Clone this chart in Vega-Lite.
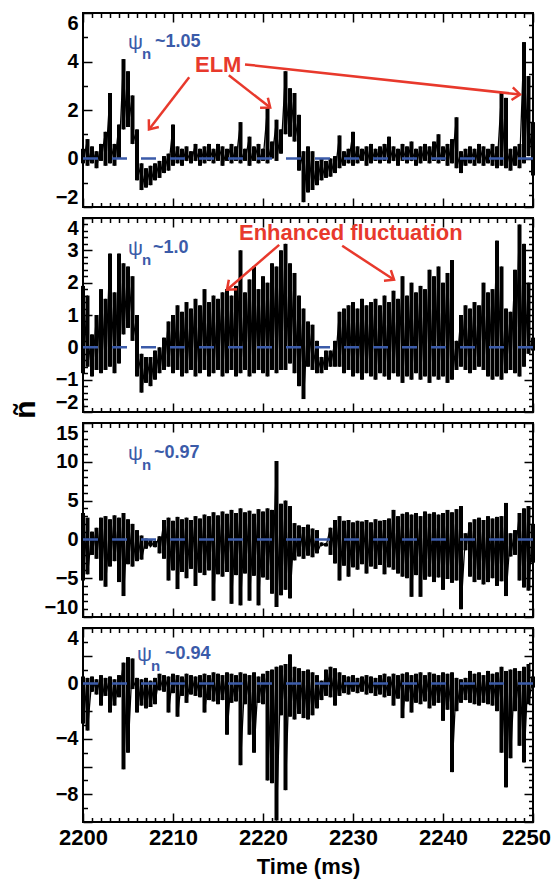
{
"$schema": "https://vega.github.io/schema/vega-lite/v6.json",
"background": "white",
"padding": {"left": 9, "top": 11, "right": 0, "bottom": 0},
"config": {
  "font": "Liberation Sans",
  "view": {"stroke": "black", "strokeWidth": 2},
  "axis": {"labelFont": "Liberation Sans", "labelFontWeight": "bold", "labelColor": "black", "titleFont": "Liberation Sans", "titleFontWeight": "bold", "titleColor": "black", "domain": false, "grid": false, "tickColor": "black", "tickWidth": 1.5, "minExtent": 0, "labelFlush": false}
},
"datasets": {
"s1": [
{"t":2200,"hi":0.4,"lo":-0.2},{"t":2200.5,"hi":0.8,"lo":-0.3},{"t":2201,"hi":0.5,"lo":-0.2},{"t":2201.5,"hi":0.3,"lo":-0.4},{"t":2202,"hi":0.6,"lo":-0.1},{"t":2202.5,"hi":1.1,"lo":-0.3},{"t":2203,"hi":2.7,"lo":-0.2},{"t":2203.5,"hi":0.6,"lo":-0.3},{"t":2204,"hi":1.4,"lo":0},{"t":2204.5,"hi":4.1,"lo":1.2},
{"t":2205,"hi":3.6,"lo":1.3},{"t":2205.5,"hi":2.6,"lo":0.6},{"t":2206,"hi":1.2,"lo":-0.9},{"t":2206.5,"hi":-0.2,"lo":-1.3},{"t":2207,"hi":-0.4,"lo":-1.2},{"t":2207.5,"hi":-0.3,"lo":-1.1},{"t":2208,"hi":-0.2,"lo":-0.9},{"t":2208.5,"hi":-0.1,"lo":-0.8},{"t":2209,"hi":0.1,"lo":-0.6},{"t":2209.5,"hi":0.2,"lo":-0.5},
{"t":2210,"hi":1.4,"lo":-0.3},{"t":2210.5,"hi":0.5,"lo":-0.2},{"t":2211,"hi":0.4,"lo":-0.3},{"t":2211.5,"hi":0.5,"lo":-0.1},{"t":2212,"hi":0.3,"lo":-0.2},{"t":2212.5,"hi":0.6,"lo":-0.1},{"t":2213,"hi":0.4,"lo":-0.3},{"t":2213.5,"hi":0.5,"lo":-0.2},{"t":2214,"hi":0.6,"lo":-0.1},{"t":2214.5,"hi":0.4,"lo":-0.2},
{"t":2215,"hi":0.6,"lo":-0.1},{"t":2215.5,"hi":0.5,"lo":-0.3},{"t":2216,"hi":0.4,"lo":-0.1},{"t":2216.5,"hi":0.6,"lo":-0.2},{"t":2217,"hi":0.5,"lo":-0.1},{"t":2217.5,"hi":1.5,"lo":-0.2},{"t":2218,"hi":0.4,"lo":-0.1},{"t":2218.5,"hi":0.9,"lo":-0.3},{"t":2219,"hi":0.5,"lo":-0.1},{"t":2219.5,"hi":0.6,"lo":-0.2},
{"t":2220,"hi":0.4,"lo":-0.1},{"t":2220.5,"hi":2.1,"lo":-0.2},{"t":2221,"hi":0.7,"lo":0},{"t":2221.5,"hi":1.6,"lo":-0.1},{"t":2222,"hi":1.2,"lo":0.2},{"t":2222.5,"hi":3.6,"lo":1.0},{"t":2223,"hi":2.9,"lo":0.9},{"t":2223.5,"hi":2.7,"lo":0.7},{"t":2224,"hi":1.8,"lo":-0.5},{"t":2224.5,"hi":0.3,"lo":-1.8},
{"t":2225,"hi":0.5,"lo":-1.4},{"t":2225.5,"hi":0.3,"lo":-1.3},{"t":2226,"hi":-0.1,"lo":-1.1},{"t":2226.5,"hi":0,"lo":-0.9},{"t":2227,"hi":-0.1,"lo":-0.8},{"t":2227.5,"hi":0,"lo":-0.75},{"t":2228,"hi":0.1,"lo":-0.6},{"t":2228.5,"hi":0.95,"lo":-0.4},{"t":2229,"hi":0.3,"lo":-0.3},{"t":2229.5,"hi":0.4,"lo":-0.2},
{"t":2230,"hi":1.1,"lo":-0.3},{"t":2230.5,"hi":0.5,"lo":-0.2},{"t":2231,"hi":0.4,"lo":-0.1},{"t":2231.5,"hi":0.5,"lo":-0.3},{"t":2232,"hi":0.6,"lo":-0.2},{"t":2232.5,"hi":0.4,"lo":-0.1},{"t":2233,"hi":0.5,"lo":-0.2},{"t":2233.5,"hi":0.6,"lo":-0.1},{"t":2234,"hi":0.9,"lo":-0.2},{"t":2234.5,"hi":0.5,"lo":-0.1},
{"t":2235,"hi":0.4,"lo":-0.3},{"t":2235.5,"hi":0.6,"lo":-0.1},{"t":2236,"hi":0.5,"lo":-0.2},{"t":2236.5,"hi":0.7,"lo":-0.1},{"t":2237,"hi":0.4,"lo":-0.3},{"t":2237.5,"hi":0.5,"lo":-0.2},{"t":2238,"hi":0.6,"lo":-0.1},{"t":2238.5,"hi":0.5,"lo":-0.2},{"t":2239,"hi":0.7,"lo":-0.1},{"t":2239.5,"hi":1.0,"lo":-0.2},
{"t":2240,"hi":0.5,"lo":-0.1},{"t":2240.5,"hi":0.6,"lo":-0.3},{"t":2241,"hi":0.8,"lo":-0.2},{"t":2241.5,"hi":1.7,"lo":-0.4},{"t":2242,"hi":0.3,"lo":-0.6},{"t":2242.5,"hi":0.4,"lo":-0.3},{"t":2243,"hi":0.5,"lo":-0.2},{"t":2243.5,"hi":0.4,"lo":-0.3},{"t":2244,"hi":0.6,"lo":-0.2},{"t":2244.5,"hi":0.5,"lo":-0.3},
{"t":2245,"hi":0.4,"lo":-0.2},{"t":2245.5,"hi":0.6,"lo":-0.3},{"t":2246,"hi":0.5,"lo":-0.4},{"t":2246.5,"hi":2.7,"lo":-0.3},{"t":2247,"hi":2.5,"lo":-0.4},{"t":2247.5,"hi":0.4,"lo":-0.5},{"t":2248,"hi":0.5,"lo":-0.3},{"t":2248.5,"hi":0.6,"lo":-0.4},{"t":2249,"hi":4.8,"lo":-0.2},{"t":2249.5,"hi":3.4,"lo":0.1},
{"t":2250,"hi":1.5,"lo":-0.7}
],
"s2": [
{"t":2200,"hi":1.9,"lo":-0.8},{"t":2200.5,"hi":1.6,"lo":-0.6},{"t":2201,"hi":0.4,"lo":-0.9},{"t":2201.5,"hi":1.0,"lo":-0.7},{"t":2202,"hi":1.8,"lo":-0.8},{"t":2202.5,"hi":1.5,"lo":-0.7},{"t":2203,"hi":2.9,"lo":-0.6},{"t":2203.5,"hi":1.7,"lo":-0.8},{"t":2204,"hi":2.9,"lo":-0.5},{"t":2204.5,"hi":2.6,"lo":0.4},
{"t":2205,"hi":2.5,"lo":0.6},{"t":2205.5,"hi":2.2,"lo":0.2},{"t":2206,"hi":1.0,"lo":-0.9},{"t":2206.5,"hi":-0.2,"lo":-1.4},{"t":2207,"hi":-0.3,"lo":-1.1},{"t":2207.5,"hi":-0.3,"lo":-1.2},{"t":2208,"hi":-0.1,"lo":-1.0},{"t":2208.5,"hi":0,"lo":-0.8},{"t":2209,"hi":0.3,"lo":-0.7},{"t":2209.5,"hi":0.8,"lo":-0.6},
{"t":2210,"hi":1.0,"lo":-0.8},{"t":2210.5,"hi":1.3,"lo":-0.7},{"t":2211,"hi":1.1,"lo":-0.9},{"t":2211.5,"hi":1.4,"lo":-0.8},{"t":2212,"hi":1.2,"lo":-0.7},{"t":2212.5,"hi":1.5,"lo":-0.9},{"t":2213,"hi":1.3,"lo":-0.8},{"t":2213.5,"hi":1.8,"lo":-0.7},{"t":2214,"hi":1.4,"lo":-0.9},{"t":2214.5,"hi":1.6,"lo":-0.8},
{"t":2215,"hi":1.5,"lo":-0.7},{"t":2215.5,"hi":1.7,"lo":-0.9},{"t":2216,"hi":1.8,"lo":-0.8},{"t":2216.5,"hi":1.6,"lo":-0.7},{"t":2217,"hi":1.9,"lo":-0.9},{"t":2217.5,"hi":3.0,"lo":-0.8},{"t":2218,"hi":1.7,"lo":-0.7},{"t":2218.5,"hi":2.1,"lo":-0.9},{"t":2219,"hi":2.5,"lo":-0.8},{"t":2219.5,"hi":1.8,"lo":-0.7},
{"t":2220,"hi":2.2,"lo":-0.8},{"t":2220.5,"hi":2.0,"lo":-0.9},{"t":2221,"hi":2.6,"lo":-0.7},{"t":2221.5,"hi":2.5,"lo":-0.8},{"t":2222,"hi":3.0,"lo":-0.7},{"t":2222.5,"hi":3.2,"lo":-0.7},{"t":2223,"hi":2.6,"lo":-0.5},{"t":2223.5,"hi":2.3,"lo":-0.8},{"t":2224,"hi":1.6,"lo":-1.2},{"t":2224.5,"hi":1.2,"lo":-1.6},
{"t":2225,"hi":0.8,"lo":-0.6},{"t":2225.5,"hi":0.7,"lo":-0.7},{"t":2226,"hi":0.2,"lo":-0.8},{"t":2226.5,"hi":-0.3,"lo":-0.8},{"t":2227,"hi":-0.1,"lo":-0.7},{"t":2227.5,"hi":-0.1,"lo":-0.6},{"t":2228,"hi":0.2,"lo":-0.6},{"t":2228.5,"hi":1.1,"lo":-0.6},{"t":2229,"hi":1.2,"lo":-0.8},{"t":2229.5,"hi":1.3,"lo":-0.7},
{"t":2230,"hi":1.4,"lo":-0.9},{"t":2230.5,"hi":1.2,"lo":-0.8},{"t":2231,"hi":1.5,"lo":-1.0},{"t":2231.5,"hi":1.3,"lo":-0.8},{"t":2232,"hi":1.4,"lo":-0.9},{"t":2232.5,"hi":1.5,"lo":-1.0},{"t":2233,"hi":1.3,"lo":-0.8},{"t":2233.5,"hi":1.6,"lo":-0.9},{"t":2234,"hi":1.4,"lo":-1.0},{"t":2234.5,"hi":1.75,"lo":-0.8},
{"t":2235,"hi":1.5,"lo":-0.9},{"t":2235.5,"hi":2.2,"lo":-1.1},{"t":2236,"hi":1.6,"lo":-0.9},{"t":2236.5,"hi":2.0,"lo":-1.0},{"t":2237,"hi":1.7,"lo":-0.8},{"t":2237.5,"hi":1.9,"lo":-1.0},{"t":2238,"hi":1.8,"lo":-0.9},{"t":2238.5,"hi":2.4,"lo":-1.1},{"t":2239,"hi":2.2,"lo":-0.9},{"t":2239.5,"hi":2.5,"lo":-1.0},
{"t":2240,"hi":2.0,"lo":-0.9},{"t":2240.5,"hi":2.3,"lo":-1.1},{"t":2241,"hi":2.7,"lo":-1.0},{"t":2241.5,"hi":0.2,"lo":-0.7},{"t":2242,"hi":1.0,"lo":-0.6},{"t":2242.5,"hi":1.3,"lo":-0.7},{"t":2243,"hi":1.2,"lo":-0.8},{"t":2243.5,"hi":1.4,"lo":-0.7},{"t":2244,"hi":1.3,"lo":-0.6},{"t":2244.5,"hi":2.0,"lo":-0.7},
{"t":2245,"hi":1.7,"lo":-0.9},{"t":2245.5,"hi":1.8,"lo":-1.0},{"t":2246,"hi":3.3,"lo":-0.9},{"t":2246.5,"hi":2.5,"lo":-1.0},{"t":2247,"hi":1.2,"lo":-0.8},{"t":2247.5,"hi":1.1,"lo":-0.7},{"t":2248,"hi":2.4,"lo":-0.8},{"t":2248.5,"hi":3.8,"lo":-0.9},{"t":2249,"hi":3.2,"lo":-0.6},{"t":2249.5,"hi":2.0,"lo":-0.2},
{"t":2250,"hi":0.3,"lo":-0.1}
],
"s3": [
{"t":2200,"hi":3.4,"lo":-5.3},{"t":2200.5,"hi":2.8,"lo":-4.5},{"t":2201,"hi":1.0,"lo":-2.0},{"t":2201.5,"hi":1.5,"lo":-2.5},{"t":2202,"hi":2.8,"lo":-5.3},{"t":2202.5,"hi":3.0,"lo":-6.1},{"t":2203,"hi":2.6,"lo":-3.5},{"t":2203.5,"hi":3.1,"lo":-2.8},{"t":2204,"hi":2.8,"lo":-5.5},{"t":2204.5,"hi":3.4,"lo":-7.3},
{"t":2205,"hi":2.6,"lo":-3.2},{"t":2205.5,"hi":2.0,"lo":-3.5},{"t":2206,"hi":1.2,"lo":-2.8},{"t":2206.5,"hi":0.5,"lo":-2.6},{"t":2207,"hi":0.1,"lo":-1.2},{"t":2207.5,"hi":0,"lo":-0.9},{"t":2208,"hi":-0.2,"lo":-1.0},{"t":2208.5,"hi":0.4,"lo":-1.8},{"t":2209,"hi":2.5,"lo":-2.5},{"t":2209.5,"hi":2.8,"lo":-5.3},
{"t":2210,"hi":2.4,"lo":-4.0},{"t":2210.5,"hi":2.9,"lo":-6.4},{"t":2211,"hi":2.6,"lo":-4.2},{"t":2211.5,"hi":2.8,"lo":-5.0},{"t":2212,"hi":2.5,"lo":-3.8},{"t":2212.5,"hi":3.0,"lo":-6.0},{"t":2213,"hi":2.7,"lo":-4.3},{"t":2213.5,"hi":3.2,"lo":-4.6},{"t":2214,"hi":3.0,"lo":-4.0},{"t":2214.5,"hi":3.5,"lo":-7.9},
{"t":2215,"hi":3.1,"lo":-4.5},{"t":2215.5,"hi":3.6,"lo":-4.8},{"t":2216,"hi":3.3,"lo":-4.2},{"t":2216.5,"hi":3.8,"lo":-8.3},{"t":2217,"hi":3.4,"lo":-4.6},{"t":2217.5,"hi":4.0,"lo":-8.5},{"t":2218,"hi":3.5,"lo":-4.4},{"t":2218.5,"hi":3.7,"lo":-7.9},{"t":2219,"hi":3.3,"lo":-4.7},{"t":2219.5,"hi":3.9,"lo":-8.5},
{"t":2220,"hi":3.6,"lo":-4.9},{"t":2220.5,"hi":4.0,"lo":-5.2},{"t":2221,"hi":3.8,"lo":-7.0},{"t":2221.5,"hi":10.1,"lo":-8.7},{"t":2222,"hi":4.6,"lo":-7.2},{"t":2222.5,"hi":5.0,"lo":-6.5},{"t":2223,"hi":4.3,"lo":-7.6},{"t":2223.5,"hi":2.1,"lo":-2.7},{"t":2224,"hi":1.8,"lo":-2.2},{"t":2224.5,"hi":1.6,"lo":-2.5},
{"t":2225,"hi":1.9,"lo":-2.1},{"t":2225.5,"hi":1.4,"lo":-2.3},{"t":2226,"hi":1.2,"lo":-1.8},{"t":2226.5,"hi":-0.4,"lo":-0.8},{"t":2227,"hi":-0.5,"lo":-0.9},{"t":2227.5,"hi":1.5,"lo":-2.0},{"t":2228,"hi":2.5,"lo":-3.1},{"t":2228.5,"hi":3.0,"lo":-5.3},{"t":2229,"hi":2.4,"lo":-3.4},{"t":2229.5,"hi":2.5,"lo":-4.8},
{"t":2230,"hi":2.2,"lo":-3.6},{"t":2230.5,"hi":2.4,"lo":-3.9},{"t":2231,"hi":2.3,"lo":-3.2},{"t":2231.5,"hi":2.5,"lo":-4.4},{"t":2232,"hi":2.2,"lo":-3.5},{"t":2232.5,"hi":2.6,"lo":-3.8},{"t":2233,"hi":2.4,"lo":-3.3},{"t":2233.5,"hi":2.5,"lo":-4.5},{"t":2234,"hi":2.7,"lo":-3.6},{"t":2234.5,"hi":3.8,"lo":-3.9},
{"t":2235,"hi":3.0,"lo":-4.4},{"t":2235.5,"hi":3.3,"lo":-4.8},{"t":2236,"hi":3.5,"lo":-5.0},{"t":2236.5,"hi":3.2,"lo":-7.4},{"t":2237,"hi":3.4,"lo":-4.6},{"t":2237.5,"hi":3.0,"lo":-7.4},{"t":2238,"hi":3.6,"lo":-5.2},{"t":2238.5,"hi":3.3,"lo":-4.8},{"t":2239,"hi":3.5,"lo":-5.5},{"t":2239.5,"hi":3.2,"lo":-4.9},
{"t":2240,"hi":3.4,"lo":-6.5},{"t":2240.5,"hi":3.8,"lo":-5.1},{"t":2241,"hi":3.5,"lo":-5.6},{"t":2241.5,"hi":3.9,"lo":-5.3},{"t":2242,"hi":4.3,"lo":-9.0},{"t":2242.5,"hi":0.8,"lo":-1.4},{"t":2243,"hi":2.2,"lo":-4.8},{"t":2243.5,"hi":2.6,"lo":-5.5},{"t":2244,"hi":2.8,"lo":-5.2},{"t":2244.5,"hi":2.5,"lo":-5.8},
{"t":2245,"hi":3.0,"lo":-5.5},{"t":2245.5,"hi":2.7,"lo":-5.0},{"t":2246,"hi":2.9,"lo":-6.0},{"t":2246.5,"hi":3.0,"lo":-5.4},{"t":2247,"hi":4.7,"lo":-7.3},{"t":2247.5,"hi":0.8,"lo":-2.2},{"t":2248,"hi":1.2,"lo":-2.0},{"t":2248.5,"hi":3.4,"lo":-5.3},{"t":2249,"hi":4.0,"lo":-6.2},{"t":2249.5,"hi":4.3,"lo":-6.6},
{"t":2250,"hi":2.0,"lo":-3.0}
],
"s4": [
{"t":2200,"hi":0.5,"lo":-2.9},{"t":2200.5,"hi":0.4,"lo":-3.4},{"t":2201,"hi":0.5,"lo":-0.6},{"t":2201.5,"hi":0.3,"lo":-0.8},{"t":2202,"hi":0.6,"lo":-1.6},{"t":2202.5,"hi":0.4,"lo":-0.9},{"t":2203,"hi":0.5,"lo":-2.1},{"t":2203.5,"hi":0.3,"lo":-1.6},{"t":2204,"hi":0.6,"lo":-1.0},{"t":2204.5,"hi":1.5,"lo":-6.2},
{"t":2205,"hi":1.9,"lo":-5.0},{"t":2205.5,"hi":1.8,"lo":-0.4},{"t":2206,"hi":0.4,"lo":-2.1},{"t":2206.5,"hi":0.3,"lo":-1.6},{"t":2207,"hi":0.4,"lo":-1.8},{"t":2207.5,"hi":0.2,"lo":-1.7},{"t":2208,"hi":0.4,"lo":-1.5},{"t":2208.5,"hi":0.7,"lo":-0.5},{"t":2209,"hi":0.6,"lo":-0.6},{"t":2209.5,"hi":0.5,"lo":-2.1},
{"t":2210,"hi":0.7,"lo":-0.7},{"t":2210.5,"hi":0.6,"lo":-2.4},{"t":2211,"hi":0.5,"lo":-0.9},{"t":2211.5,"hi":0.7,"lo":-1.4},{"t":2212,"hi":0.6,"lo":-0.8},{"t":2212.5,"hi":0.5,"lo":-0.9},{"t":2213,"hi":0.6,"lo":-1.0},{"t":2213.5,"hi":0.7,"lo":-2.1},{"t":2214,"hi":0.6,"lo":-1.2},{"t":2214.5,"hi":0.8,"lo":-1.3},
{"t":2215,"hi":0.7,"lo":-1.5},{"t":2215.5,"hi":0.6,"lo":-1.2},{"t":2216,"hi":0.8,"lo":-3.7},{"t":2216.5,"hi":0.7,"lo":-1.4},{"t":2217,"hi":0.6,"lo":-1.3},{"t":2217.5,"hi":0.8,"lo":-5.9},{"t":2218,"hi":0.7,"lo":-1.5},{"t":2218.5,"hi":0.6,"lo":-3.7},{"t":2219,"hi":0.8,"lo":-5.0},{"t":2219.5,"hi":0.5,"lo":-1.4},
{"t":2220,"hi":0.7,"lo":-1.5},{"t":2220.5,"hi":0.9,"lo":-7.0},{"t":2221,"hi":1.0,"lo":-7.2},{"t":2221.5,"hi":1.2,"lo":-9.9},{"t":2222,"hi":1.3,"lo":-2.3},{"t":2222.5,"hi":1.4,"lo":-7.7},{"t":2223,"hi":2.1,"lo":-2.4},{"t":2223.5,"hi":1.2,"lo":-2.6},{"t":2224,"hi":1.1,"lo":-2.2},{"t":2224.5,"hi":0.9,"lo":-2.5},
{"t":2225,"hi":1.0,"lo":-2.6},{"t":2225.5,"hi":0.8,"lo":-2.3},{"t":2226,"hi":0.6,"lo":-1.8},{"t":2226.5,"hi":0.2,"lo":-1.2},{"t":2227,"hi":1.0,"lo":-0.9},{"t":2227.5,"hi":1.2,"lo":-1.0},{"t":2228,"hi":1.1,"lo":-1.6},{"t":2228.5,"hi":0.8,"lo":-0.9},{"t":2229,"hi":0.6,"lo":-0.7},{"t":2229.5,"hi":0.5,"lo":-0.8},
{"t":2230,"hi":0.6,"lo":-0.6},{"t":2230.5,"hi":0.4,"lo":-0.7},{"t":2231,"hi":0.5,"lo":-0.6},{"t":2231.5,"hi":0.6,"lo":-0.8},{"t":2232,"hi":0.5,"lo":-0.7},{"t":2232.5,"hi":0.4,"lo":-0.9},{"t":2233,"hi":0.6,"lo":-0.8},{"t":2233.5,"hi":0.7,"lo":-1.0},{"t":2234,"hi":0.5,"lo":-0.9},{"t":2234.5,"hi":0.7,"lo":-1.6},
{"t":2235,"hi":0.6,"lo":-1.1},{"t":2235.5,"hi":0.7,"lo":-2.5},{"t":2236,"hi":0.8,"lo":-1.3},{"t":2236.5,"hi":0.6,"lo":-2.1},{"t":2237,"hi":0.7,"lo":-1.4},{"t":2237.5,"hi":0.8,"lo":-1.5},{"t":2238,"hi":0.6,"lo":-1.3},{"t":2238.5,"hi":0.8,"lo":-1.8},{"t":2239,"hi":0.7,"lo":-1.6},{"t":2239.5,"hi":0.6,"lo":-1.4},
{"t":2240,"hi":0.8,"lo":-2.7},{"t":2240.5,"hi":0.7,"lo":-1.9},{"t":2241,"hi":0.8,"lo":-6.4},{"t":2241.5,"hi":0.4,"lo":-2.0},{"t":2242,"hi":0.3,"lo":-1.4},{"t":2242.5,"hi":0.4,"lo":-1.2},{"t":2243,"hi":0.9,"lo":-1.4},{"t":2243.5,"hi":0.7,"lo":-1.5},{"t":2244,"hi":0.8,"lo":-1.6},{"t":2244.5,"hi":0.6,"lo":-1.4},
{"t":2245,"hi":0.9,"lo":-1.5},{"t":2245.5,"hi":0.7,"lo":-1.6},{"t":2246,"hi":0.8,"lo":-2.0},{"t":2246.5,"hi":1.2,"lo":-5.0},{"t":2247,"hi":0.9,"lo":-7.5},{"t":2247.5,"hi":1.0,"lo":-5.4},{"t":2248,"hi":1.1,"lo":-2.0},{"t":2248.5,"hi":0.9,"lo":-4.5},{"t":2249,"hi":1.2,"lo":-5.7},{"t":2249.5,"hi":1.4,"lo":-1.5},
{"t":2250,"hi":0.5,"lo":-0.3}
],
"ar1": [
{"id":1,"t":2211.8,"v":3.35,"t2":2207.33,"v2":1.2},
{"id":2,"t":2216.2,"v":3.43,"t2":2220.8,"v2":2.1},
{"id":3,"t":2218.0,"v":3.88,"t2":2248.56,"v2":2.64}
],
"ar2": [
{"id":1,"t":2221.8,"v":3.17,"t2":2216.0,"v2":1.78},
{"id":2,"t":2228.8,"v":3.14,"t2":2234.56,"v2":2.09}
]
},
"bounds": "flush",
"spacing": 11,
"vconcat": [
{
"width": 450, "height": 194,
"layer": [
 {"data": {"name": "s1"}, "mark": {"type": "rule", "color": "black", "strokeWidth": 4},
  "encoding": {"x": {"field": "t", "type": "quantitative", "scale": {"domain": [2200,2250], "nice": false, "zero": false}, "axis": null},
   "y": {"field": "hi", "type": "quantitative", "scale": {"domain": [-2,6], "nice": false, "zero": false}, "axis": null}, "y2": {"field": "lo"}}},
 {"data": {"name": "s1"}, "transform": [{"fold": ["hi","lo"], "as": ["k","v"]}],
  "mark": {"type": "line", "color": "black", "strokeWidth": 1.3},
  "encoding": {
   "x": {"field": "t", "type": "quantitative", "scale": {"domain": [2200,2250], "nice": false, "zero": false},
     "axis": {"orient": "bottom", "values": [2200,2201,2202,2203,2204,2205,2206,2207,2208,2209,2210,2211,2212,2213,2214,2215,2216,2217,2218,2219,2220,2221,2222,2223,2224,2225,2226,2227,2228,2229,2230,2231,2232,2233,2234,2235,2236,2237,2238,2239,2240,2241,2242,2243,2244,2245,2246,2247,2248,2249,2250], "labels": false, "title": null, "tickSize": {"condition": {"test": "datum.value % 10 === 0", "value": -9}, "value": -4.5}}},
   "y": {"field": "v", "type": "quantitative", "scale": {"domain": [-2,6], "nice": false, "zero": false},
     "axis": {"orient": "left", "values": [-2,-1.5,-1,-0.5,0,0.5,1,1.5,2,2.5,3,3.5,4,4.5,5,5.5,6], "format": "d", "labelExpr": "datum.value % 2 === 0 ? datum.label : ''", "labelFontSize": 20, "labelOverlap": false, "labelFlush": true, "labelPadding": 14, "title": null, "tickSize": {"condition": {"test": "datum.value % 2 === 0", "value": -9}, "value": -4.5}}},
   "order": [{"field": "t", "type": "quantitative"}, {"field": "k", "type": "nominal"}]
  }},
 {"data": {"values": [{}]}, "mark": {"type": "rule", "color": "#3b5ba9", "strokeDash": [15,14], "strokeWidth": 2.5},
  "encoding": {"y": {"datum": 0, "type": "quantitative", "scale": {"domain": [-2,6], "nice": false, "zero": false}, "axis": null}}},
 {"data": {"values": [{"t": 2205.0, "v": 4.75, "s": "ψ"}]},
  "mark": {"type": "text", "align": "left", "baseline": "middle", "font": "Liberation Sans", "fontSize": 21, "color": "#3b5ba9"},
  "encoding": {
   "x": {"field": "t", "type": "quantitative", "scale": {"domain": [2200,2250], "nice": false, "zero": false},
     "axis": {"orient": "top", "values": [2200,2201,2202,2203,2204,2205,2206,2207,2208,2209,2210,2211,2212,2213,2214,2215,2216,2217,2218,2219,2220,2221,2222,2223,2224,2225,2226,2227,2228,2229,2230,2231,2232,2233,2234,2235,2236,2237,2238,2239,2240,2241,2242,2243,2244,2245,2246,2247,2248,2249,2250], "labels": false, "title": null, "tickSize": {"condition": {"test": "datum.value % 10 === 0", "value": -9}, "value": -4.5}}},
   "y": {"field": "v", "type": "quantitative", "scale": {"domain": [-2,6], "nice": false, "zero": false},
     "axis": {"orient": "right", "values": [-2,-1.5,-1,-0.5,0,0.5,1,1.5,2,2.5,3,3.5,4,4.5,5,5.5,6], "labels": false, "title": null, "tickSize": {"condition": {"test": "datum.value % 2 === 0", "value": -9}, "value": -4.5}}},
   "text": {"field": "s"}
  }},
 {"data": {"values": [{"t": 2205.0, "v": 4.75, "s": "n"}]},
  "mark": {"type": "text", "align": "left", "baseline": "middle", "dx": 14, "dy": 11, "font": "Liberation Sans", "fontWeight": "bold", "fontSize": 15, "color": "#3b5ba9"},
  "encoding": {"x": {"field": "t", "type": "quantitative", "axis": null}, "y": {"field": "v", "type": "quantitative", "axis": null}, "text": {"field": "s"}}},
 {"data": {"values": [{"t": 2205.0, "v": 4.75, "s": "~1.05"}]},
  "mark": {"type": "text", "align": "left", "baseline": "middle", "dx": 27, "dy": -1, "font": "Liberation Sans", "fontWeight": "bold", "fontSize": 18, "color": "#3b5ba9"},
  "encoding": {"x": {"field": "t", "type": "quantitative", "axis": null}, "y": {"field": "v", "type": "quantitative", "axis": null}, "text": {"field": "s"}}},
 {"data": {"values": [{"t": 2212.44, "v": 3.84, "s": "ELM"}]},
  "mark": {"type": "text", "align": "left", "baseline": "middle", "font": "Liberation Sans", "fontWeight": "bold", "fontSize": 22, "color": "#e8392c"},
  "encoding": {"x": {"field": "t", "type": "quantitative", "axis": null}, "y": {"field": "v", "type": "quantitative", "axis": null}, "text": {"field": "s"}}},
 {"data": {"name": "ar1"}, "mark": {"type": "rule", "color": "#e8392c", "strokeWidth": 2.5},
  "encoding": {"x": {"field": "t", "type": "quantitative", "axis": null}, "y": {"field": "v", "type": "quantitative", "axis": null}, "x2": {"field": "t2"}, "y2": {"field": "v2"}}},
 {"data": {"name": "ar1"}, "transform": [{"filter": "datum.id === 1"}], "mark": {"type": "point", "shape": "M -0.8 1 L 0 0 L 0.8 1", "filled": false, "size": 250, "strokeWidth": 2.5, "color": "#e8392c", "opacity": 1, "angle": 218},
  "encoding": {"x": {"field": "t2", "type": "quantitative", "axis": null}, "y": {"field": "v2", "type": "quantitative", "axis": null}}},
 {"data": {"name": "ar1"}, "transform": [{"filter": "datum.id === 2"}], "mark": {"type": "point", "shape": "M -0.8 1 L 0 0 L 0.8 1", "filled": false, "size": 250, "strokeWidth": 2.5, "color": "#e8392c", "opacity": 1, "angle": 128},
  "encoding": {"x": {"field": "t2", "type": "quantitative", "axis": null}, "y": {"field": "v2", "type": "quantitative", "axis": null}}},
 {"data": {"name": "ar1"}, "transform": [{"filter": "datum.id === 3"}], "mark": {"type": "point", "shape": "M -0.8 1 L 0 0 L 0.8 1", "filled": false, "size": 250, "strokeWidth": 2.5, "color": "#e8392c", "opacity": 1, "angle": 96},
  "encoding": {"x": {"field": "t2", "type": "quantitative", "axis": null}, "y": {"field": "v2", "type": "quantitative", "axis": null}}}
],
"resolve": {"axis": {"x": "independent", "y": "independent"}}
},
{
"width": 450, "height": 194,
"layer": [
 {"data": {"name": "s2"}, "mark": {"type": "rule", "color": "black", "strokeWidth": 4},
  "encoding": {"x": {"field": "t", "type": "quantitative", "scale": {"domain": [2200,2250], "nice": false, "zero": false}, "axis": null},
   "y": {"field": "hi", "type": "quantitative", "scale": {"domain": [-2,4], "nice": false, "zero": false}, "axis": null}, "y2": {"field": "lo"}}},
 {"data": {"name": "s2"}, "transform": [{"fold": ["hi","lo"], "as": ["k","v"]}],
  "mark": {"type": "line", "color": "black", "strokeWidth": 1.3},
  "encoding": {
   "x": {"field": "t", "type": "quantitative", "scale": {"domain": [2200,2250], "nice": false, "zero": false},
     "axis": {"orient": "bottom", "values": [2200,2201,2202,2203,2204,2205,2206,2207,2208,2209,2210,2211,2212,2213,2214,2215,2216,2217,2218,2219,2220,2221,2222,2223,2224,2225,2226,2227,2228,2229,2230,2231,2232,2233,2234,2235,2236,2237,2238,2239,2240,2241,2242,2243,2244,2245,2246,2247,2248,2249,2250], "labels": false, "title": null, "tickSize": {"condition": {"test": "datum.value % 10 === 0", "value": -9}, "value": -4.5}}},
   "y": {"field": "v", "type": "quantitative", "scale": {"domain": [-2,4], "nice": false, "zero": false},
     "axis": {"orient": "left", "values": [-2,-1.8,-1.6,-1.4,-1.2,-1,-0.8,-0.6,-0.4,-0.2,0,0.2,0.4,0.6,0.8,1,1.2,1.4,1.6,1.8,2,2.2,2.4,2.6,2.8,3,3.2,3.4,3.6,3.8,4], "labelExpr": "floor(datum.value) === datum.value ? format(datum.value, 'd') : ''", "labelFontSize": 20, "labelOverlap": false, "labelFlush": true, "labelPadding": 14, "title": null,
       "tickSize": {"condition": {"test": "floor(datum.value) === datum.value", "value": -9}, "value": -4.5}}},
   "order": [{"field": "t", "type": "quantitative"}, {"field": "k", "type": "nominal"}]
  }},
 {"data": {"values": [{}]}, "mark": {"type": "rule", "color": "#3b5ba9", "strokeDash": [15,14], "strokeWidth": 2.5},
  "encoding": {"y": {"datum": 0, "type": "quantitative", "scale": {"domain": [-2,4], "nice": false, "zero": false}, "axis": null}}},
 {"data": {"values": [{"t": 2205.0, "v": 3.05, "s": "ψ"}]},
  "mark": {"type": "text", "align": "left", "baseline": "middle", "font": "Liberation Sans", "fontSize": 21, "color": "#3b5ba9"},
  "encoding": {
   "x": {"field": "t", "type": "quantitative", "scale": {"domain": [2200,2250], "nice": false, "zero": false},
     "axis": {"orient": "top", "values": [2200,2201,2202,2203,2204,2205,2206,2207,2208,2209,2210,2211,2212,2213,2214,2215,2216,2217,2218,2219,2220,2221,2222,2223,2224,2225,2226,2227,2228,2229,2230,2231,2232,2233,2234,2235,2236,2237,2238,2239,2240,2241,2242,2243,2244,2245,2246,2247,2248,2249,2250], "labels": false, "title": null, "tickSize": {"condition": {"test": "datum.value % 10 === 0", "value": -9}, "value": -4.5}}},
   "y": {"field": "v", "type": "quantitative", "scale": {"domain": [-2,4], "nice": false, "zero": false},
     "axis": {"orient": "right", "values": [-2,-1.8,-1.6,-1.4,-1.2,-1,-0.8,-0.6,-0.4,-0.2,0,0.2,0.4,0.6,0.8,1,1.2,1.4,1.6,1.8,2,2.2,2.4,2.6,2.8,3,3.2,3.4,3.6,3.8,4], "labels": false, "title": null, "tickSize": {"condition": {"test": "floor(datum.value) === datum.value", "value": -9}, "value": -4.5}}},
   "text": {"field": "s"}
  }},
 {"data": {"values": [{"t": 2205.0, "v": 3.05, "s": "n"}]},
  "mark": {"type": "text", "align": "left", "baseline": "middle", "dx": 14, "dy": 11, "font": "Liberation Sans", "fontWeight": "bold", "fontSize": 15, "color": "#3b5ba9"},
  "encoding": {"x": {"field": "t", "type": "quantitative", "axis": null}, "y": {"field": "v", "type": "quantitative", "axis": null}, "text": {"field": "s"}}},
 {"data": {"values": [{"t": 2205.0, "v": 3.05, "s": "~1.0"}]},
  "mark": {"type": "text", "align": "left", "baseline": "middle", "dx": 25, "dy": -1, "font": "Liberation Sans", "fontWeight": "bold", "fontSize": 18, "color": "#3b5ba9"},
  "encoding": {"x": {"field": "t", "type": "quantitative", "axis": null}, "y": {"field": "v", "type": "quantitative", "axis": null}, "text": {"field": "s"}}},
 {"data": {"values": [{"t": 2217.33, "v": 3.54, "s": "Enhanced fluctuation"}]},
  "mark": {"type": "text", "align": "left", "baseline": "middle", "font": "Liberation Sans", "fontWeight": "bold", "fontSize": 22, "color": "#e8392c"},
  "encoding": {"x": {"field": "t", "type": "quantitative", "axis": null}, "y": {"field": "v", "type": "quantitative", "axis": null}, "text": {"field": "s"}}},
 {"data": {"name": "ar2"}, "mark": {"type": "rule", "color": "#e8392c", "strokeWidth": 2.5},
  "encoding": {"x": {"field": "t", "type": "quantitative", "axis": null}, "y": {"field": "v", "type": "quantitative", "axis": null}, "x2": {"field": "t2"}, "y2": {"field": "v2"}}},
 {"data": {"name": "ar2"}, "transform": [{"filter": "datum.id === 1"}], "mark": {"type": "point", "shape": "M -0.8 1 L 0 0 L 0.8 1", "filled": false, "size": 250, "strokeWidth": 2.5, "color": "#e8392c", "opacity": 1, "angle": 229},
  "encoding": {"x": {"field": "t2", "type": "quantitative", "axis": null}, "y": {"field": "v2", "type": "quantitative", "axis": null}}},
 {"data": {"name": "ar2"}, "transform": [{"filter": "datum.id === 2"}], "mark": {"type": "point", "shape": "M -0.8 1 L 0 0 L 0.8 1", "filled": false, "size": 250, "strokeWidth": 2.5, "color": "#e8392c", "opacity": 1, "angle": 123},
  "encoding": {"x": {"field": "t2", "type": "quantitative", "axis": null}, "y": {"field": "v2", "type": "quantitative", "axis": null}}}
],
"resolve": {"axis": {"x": "independent", "y": "independent"}}
},
{
"width": 450, "height": 194,
"layer": [
 {"data": {"name": "s3"}, "mark": {"type": "rule", "color": "black", "strokeWidth": 4},
  "encoding": {"x": {"field": "t", "type": "quantitative", "scale": {"domain": [2200,2250], "nice": false, "zero": false}, "axis": null},
   "y": {"field": "hi", "type": "quantitative", "scale": {"domain": [-10,15], "nice": false, "zero": false}, "axis": null}, "y2": {"field": "lo"}}},
 {"data": {"name": "s3"}, "transform": [{"fold": ["hi","lo"], "as": ["k","v"]}],
  "mark": {"type": "line", "color": "black", "strokeWidth": 1.3},
  "encoding": {
   "x": {"field": "t", "type": "quantitative", "scale": {"domain": [2200,2250], "nice": false, "zero": false},
     "axis": {"orient": "bottom", "values": [2200,2201,2202,2203,2204,2205,2206,2207,2208,2209,2210,2211,2212,2213,2214,2215,2216,2217,2218,2219,2220,2221,2222,2223,2224,2225,2226,2227,2228,2229,2230,2231,2232,2233,2234,2235,2236,2237,2238,2239,2240,2241,2242,2243,2244,2245,2246,2247,2248,2249,2250], "labels": false, "title": null, "tickSize": {"condition": {"test": "datum.value % 10 === 0", "value": -9}, "value": -4.5}}},
   "y": {"field": "v", "type": "quantitative", "scale": {"domain": [-10,15], "nice": false, "zero": false},
     "axis": {"orient": "left", "values": [-10,-9,-8,-7,-6,-5,-4,-3,-2,-1,0,1,2,3,4,5,6,7,8,9,10,11,12,13,14,15], "format": "d", "labelExpr": "datum.value % 5 === 0 ? datum.label : ''", "labelFontSize": 20, "labelOverlap": false, "labelFlush": true, "labelPadding": 14,
       "title": "ñ", "titleFontSize": 30, "titleAngle": -90, "titleX": -58, "titleY": -14, "titleAlign": "center", "titleBaseline": "middle",
       "tickSize": {"condition": {"test": "datum.value % 5 === 0", "value": -9}, "value": -4.5}}},
   "order": [{"field": "t", "type": "quantitative"}, {"field": "k", "type": "nominal"}]
  }},
 {"data": {"values": [{}]}, "mark": {"type": "rule", "color": "#3b5ba9", "strokeDash": [15,14], "strokeWidth": 2.5},
  "encoding": {"y": {"datum": 0, "type": "quantitative", "scale": {"domain": [-10,15], "nice": false, "zero": false}, "axis": null}}},
 {"data": {"values": [{"t": 2205.0, "v": 11.0, "s": "ψ"}]},
  "mark": {"type": "text", "align": "left", "baseline": "middle", "font": "Liberation Sans", "fontSize": 21, "color": "#3b5ba9"},
  "encoding": {
   "x": {"field": "t", "type": "quantitative", "scale": {"domain": [2200,2250], "nice": false, "zero": false},
     "axis": {"orient": "top", "values": [2200,2201,2202,2203,2204,2205,2206,2207,2208,2209,2210,2211,2212,2213,2214,2215,2216,2217,2218,2219,2220,2221,2222,2223,2224,2225,2226,2227,2228,2229,2230,2231,2232,2233,2234,2235,2236,2237,2238,2239,2240,2241,2242,2243,2244,2245,2246,2247,2248,2249,2250], "labels": false, "title": null, "tickSize": {"condition": {"test": "datum.value % 10 === 0", "value": -9}, "value": -4.5}}},
   "y": {"field": "v", "type": "quantitative", "scale": {"domain": [-10,15], "nice": false, "zero": false},
     "axis": {"orient": "right", "values": [-10,-9,-8,-7,-6,-5,-4,-3,-2,-1,0,1,2,3,4,5,6,7,8,9,10,11,12,13,14,15], "labels": false, "title": null, "tickSize": {"condition": {"test": "datum.value % 5 === 0", "value": -9}, "value": -4.5}}},
   "text": {"field": "s"}
  }},
 {"data": {"values": [{"t": 2205.0, "v": 11.0, "s": "n"}]},
  "mark": {"type": "text", "align": "left", "baseline": "middle", "dx": 14, "dy": 11, "font": "Liberation Sans", "fontWeight": "bold", "fontSize": 15, "color": "#3b5ba9"},
  "encoding": {"x": {"field": "t", "type": "quantitative", "axis": null}, "y": {"field": "v", "type": "quantitative", "axis": null}, "text": {"field": "s"}}},
 {"data": {"values": [{"t": 2205.0, "v": 11.0, "s": "~0.97"}]},
  "mark": {"type": "text", "align": "left", "baseline": "middle", "dx": 26, "dy": -1, "font": "Liberation Sans", "fontWeight": "bold", "fontSize": 18, "color": "#3b5ba9"},
  "encoding": {"x": {"field": "t", "type": "quantitative", "axis": null}, "y": {"field": "v", "type": "quantitative", "axis": null}, "text": {"field": "s"}}}
],
"resolve": {"axis": {"x": "independent", "y": "independent"}}
},
{
"width": 450, "height": 194,
"layer": [
 {"data": {"name": "s4"}, "mark": {"type": "rule", "color": "black", "strokeWidth": 4},
  "encoding": {"x": {"field": "t", "type": "quantitative", "scale": {"domain": [2200,2250], "nice": false, "zero": false}, "axis": null},
   "y": {"field": "hi", "type": "quantitative", "scale": {"domain": [-10,4], "nice": false, "zero": false}, "axis": null}, "y2": {"field": "lo"}}},
 {"data": {"name": "s4"}, "transform": [{"fold": ["hi","lo"], "as": ["k","v"]}],
  "mark": {"type": "line", "color": "black", "strokeWidth": 1.3},
  "encoding": {
   "x": {"field": "t", "type": "quantitative", "scale": {"domain": [2200,2250], "nice": false, "zero": false},
     "axis": {"orient": "bottom", "values": [2200,2201,2202,2203,2204,2205,2206,2207,2208,2209,2210,2211,2212,2213,2214,2215,2216,2217,2218,2219,2220,2221,2222,2223,2224,2225,2226,2227,2228,2229,2230,2231,2232,2233,2234,2235,2236,2237,2238,2239,2240,2241,2242,2243,2244,2245,2246,2247,2248,2249,2250], "format": "d", "labelExpr": "datum.value % 10 === 0 ? datum.label : ''", "labelOffset": {"condition": {"test": "datum.value === 2250", "value": -7}, "value": 0}, "labelFontSize": 22, "labelOverlap": false, "labelFlush": false, "labelPadding": 14, "title": "Time (ms)", "titleFontSize": 22, "titlePadding": 4, "tickSize": {"condition": {"test": "datum.value % 10 === 0", "value": -9}, "value": -4.5}}},
   "y": {"field": "v", "type": "quantitative", "scale": {"domain": [-10,4], "nice": false, "zero": false},
     "axis": {"orient": "left", "values": [-10,-9.5,-9,-8.5,-8,-7.5,-7,-6.5,-6,-5.5,-5,-4.5,-4,-3.5,-3,-2.5,-2,-1.5,-1,-0.5,0,0.5,1,1.5,2,2.5,3,3.5,4], "format": "d", "labelExpr": "datum.value % 4 === 0 ? datum.label : ''", "labelFontSize": 20, "labelOverlap": false, "labelFlush": true, "labelPadding": 14, "title": null, "tickSize": {"condition": {"test": "datum.value % 2 === 0", "value": -9}, "value": -4.5}}},
   "order": [{"field": "t", "type": "quantitative"}, {"field": "k", "type": "nominal"}]
  }},
 {"data": {"values": [{}]}, "mark": {"type": "rule", "color": "#3b5ba9", "strokeDash": [15,14], "strokeWidth": 2.5},
  "encoding": {"y": {"datum": 0, "type": "quantitative", "scale": {"domain": [-10,4], "nice": false, "zero": false}, "axis": null}}},
 {"data": {"values": [{"t": 2206.0, "v": 2.08, "s": "ψ"}]},
  "mark": {"type": "text", "align": "left", "baseline": "middle", "font": "Liberation Sans", "fontSize": 21, "color": "#3b5ba9"},
  "encoding": {
   "x": {"field": "t", "type": "quantitative", "scale": {"domain": [2200,2250], "nice": false, "zero": false},
     "axis": {"orient": "top", "values": [2200,2201,2202,2203,2204,2205,2206,2207,2208,2209,2210,2211,2212,2213,2214,2215,2216,2217,2218,2219,2220,2221,2222,2223,2224,2225,2226,2227,2228,2229,2230,2231,2232,2233,2234,2235,2236,2237,2238,2239,2240,2241,2242,2243,2244,2245,2246,2247,2248,2249,2250], "labels": false, "title": null, "tickSize": {"condition": {"test": "datum.value % 10 === 0", "value": -9}, "value": -4.5}}},
   "y": {"field": "v", "type": "quantitative", "scale": {"domain": [-10,4], "nice": false, "zero": false},
     "axis": {"orient": "right", "values": [-10,-9.5,-9,-8.5,-8,-7.5,-7,-6.5,-6,-5.5,-5,-4.5,-4,-3.5,-3,-2.5,-2,-1.5,-1,-0.5,0,0.5,1,1.5,2,2.5,3,3.5,4], "labels": false, "title": null, "tickSize": {"condition": {"test": "datum.value % 2 === 0", "value": -9}, "value": -4.5}}},
   "text": {"field": "s"}
  }},
 {"data": {"values": [{"t": 2206.0, "v": 2.08, "s": "n"}]},
  "mark": {"type": "text", "align": "left", "baseline": "middle", "dx": 14, "dy": 11, "font": "Liberation Sans", "fontWeight": "bold", "fontSize": 15, "color": "#3b5ba9"},
  "encoding": {"x": {"field": "t", "type": "quantitative", "axis": null}, "y": {"field": "v", "type": "quantitative", "axis": null}, "text": {"field": "s"}}},
 {"data": {"values": [{"t": 2206.0, "v": 2.08, "s": "~0.94"}]},
  "mark": {"type": "text", "align": "left", "baseline": "middle", "dx": 28, "dy": -1, "font": "Liberation Sans", "fontWeight": "bold", "fontSize": 18, "color": "#3b5ba9"},
  "encoding": {"x": {"field": "t", "type": "quantitative", "axis": null}, "y": {"field": "v", "type": "quantitative", "axis": null}, "text": {"field": "s"}}}
],
"resolve": {"axis": {"x": "independent", "y": "independent"}}
}
]
}
